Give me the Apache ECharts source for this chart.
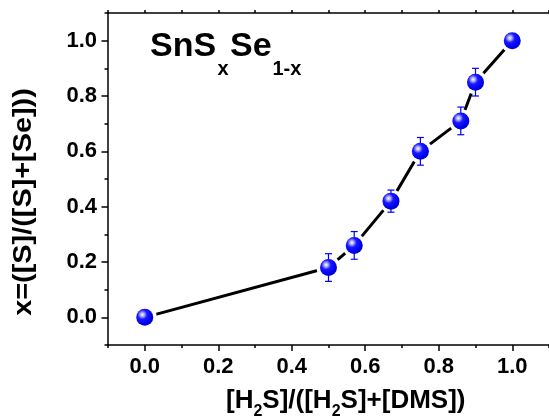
<!DOCTYPE html>
<html>
<head>
<meta charset="utf-8">
<script src="https://cdn.jsdelivr.net/npm/echarts@6/dist/echarts.min.js"></script>
<style>
  html, body { margin: 0; padding: 0; background: #fff; }
  #chart { width: 549px; height: 418px; }
</style>
</head>
<body>
<div id="chart"></div>
<script>
// H2S fraction in the gas feed vs. measured S fraction in the film
const h2sRatio = [0, 0.5, 0.57, 0.67, 0.75, 0.86, 0.9, 1.0];
const sFraction = [0, 0.18, 0.26, 0.42, 0.60, 0.71, 0.85, 1.0];
const sError = [0, 0.05, 0.05, 0.04, 0.05, 0.05, 0.05, 0];
const xTicks = [0, 0.2, 0.4, 0.6, 0.8, 1.0];
const yTicks = [0, 0.2, 0.4, 0.6, 0.8, 1.0];

const FONT = '"Liberation Sans", Arial, sans-serif';
const points = h2sRatio.map((x, i) => [x, sFraction[i]]);
const errData = h2sRatio.map((x, i) => [x, sFraction[i], sError[i]]);

const tickLabel = {
  fontFamily: FONT, fontWeight: 'bold', fontSize: 22, color: '#000',
  formatter: (v) => v.toFixed(1),
};
const blackLine = { color: '#000', width: 1.5 };

const chart = echarts.init(document.getElementById('chart'));

chart.setOption({
  animation: false,
  grid: { left: 108, top: 13, width: 448, height: 332 },
  xAxis: [
    {
      type: 'value', min: -0.1, max: 1.1, position: 'bottom',
      axisLine: { onZero: false, lineStyle: blackLine },
      axisTick: { customValues: xTicks, length: 6, lineStyle: blackLine },
      axisLabel: { ...tickLabel, customValues: xTicks, margin: 11 },
      splitLine: { show: false },
    },
    {
      // minor ticks
      type: 'value', min: -0.1, max: 1.1, interval: 0.1, position: 'bottom',
      axisLine: { show: false, onZero: false },
      axisTick: { length: 3, lineStyle: blackLine },
      axisLabel: { show: false },
      splitLine: { show: false },
    },
    {
      type: 'value', min: -0.1, max: 1.1, interval: 0.1, position: 'top',
      axisLine: { onZero: false, lineStyle: blackLine },
      axisTick: { length: 3, lineStyle: blackLine },
      axisLabel: { show: false },
      splitLine: { show: false },
    },
  ],
  yAxis: [
    {
      type: 'value', min: -0.1, max: 1.1, position: 'left',
      axisLine: { show: true, onZero: false, lineStyle: blackLine },
      axisTick: { show: true, customValues: yTicks, length: 6.5, lineStyle: blackLine },
      axisLabel: { ...tickLabel, customValues: yTicks, margin: 11 },
      splitLine: { show: false },
    },
    {
      type: 'value', min: -0.1, max: 1.1, interval: 0.1, position: 'left',
      axisLine: { show: false, onZero: false },
      axisTick: { show: true, length: 3.5, lineStyle: blackLine },
      axisLabel: { show: false },
      splitLine: { show: false },
    },
  ],
  series: [
    {
      type: 'line', z: 2, data: points, showSymbol: false,
      lineStyle: { color: '#000', width: 3 },
    },
    {
      // white halo so the line stops short of the markers
      type: 'scatter', z: 3, data: points, symbolSize: 24,
      itemStyle: { color: '#fff', opacity: 1 },
    },
    {
      type: 'custom', z: 4, data: errData,
      renderItem: (params, api) => {
        const e = api.value(2);
        if (!e) return;
        const x = api.value(0), y = api.value(1);
        const top = api.coord([x, y + e]);
        const bot = api.coord([x, y - e]);
        const hw = 3.5;
        const st = { stroke: '#0000ff', lineWidth: 1.2 };
        return {
          type: 'group',
          children: [
            { type: 'line', shape: { x1: top[0], y1: top[1], x2: bot[0], y2: bot[1] }, style: st },
            { type: 'line', shape: { x1: top[0] - hw, y1: top[1], x2: top[0] + hw, y2: top[1] }, style: st },
            { type: 'line', shape: { x1: bot[0] - hw, y1: bot[1], x2: bot[0] + hw, y2: bot[1] }, style: st },
          ],
        };
      },
    },
    {
      type: 'scatter', z: 5, data: points, symbolSize: 17,
      itemStyle: {
        opacity: 1,
        color: {
          type: 'radial', x: 0.36, y: 0.34, r: 0.7,
          colorStops: [
            { offset: 0, color: '#ffffff' },
            { offset: 0.16, color: '#b0b0ff' },
            { offset: 0.4, color: '#1818ff' },
            { offset: 0.8, color: '#0000f0' },
            { offset: 1, color: '#0000c0' },
          ],
        },
      },
    },
  ],
  graphic: [
    { type: 'text', left: 150, top: 30, style: { text: 'SnS', font: `bold 34px ${FONT}`, fill: '#000' } },
    { type: 'text', left: 217.5, top: 59, style: { text: 'x', font: `bold 20px ${FONT}`, fill: '#000' } },
    { type: 'text', left: 230, top: 30, style: { text: 'Se', font: `bold 34px ${FONT}`, fill: '#000' } },
    { type: 'text', left: 272.5, top: 59, style: { text: '1-x', font: `bold 20px ${FONT}`, fill: '#000' } },
    {
      type: 'text', left: 226, top: 388,
      style: {
        text: '[H{s|2}S]/([H{s|2}S]+[DMS])',
        font: `bold 26px ${FONT}`, fill: '#000',
        rich: {
          s: { fontFamily: FONT, fontWeight: 'bold', fontSize: 16, padding: [22, 0, 0, 0] },
        },
      },
    },
    {
      type: 'text', x: 24, y: 202, rotation: Math.PI / 2, scaleX: 1.11,
      style: {
        text: 'x=([S]/([S]+[Se]))', font: `bold 26px ${FONT}`, fill: '#000',
        align: 'center', verticalAlign: 'middle',
      },
    },
  ],
});
</script>
</body>
</html>
